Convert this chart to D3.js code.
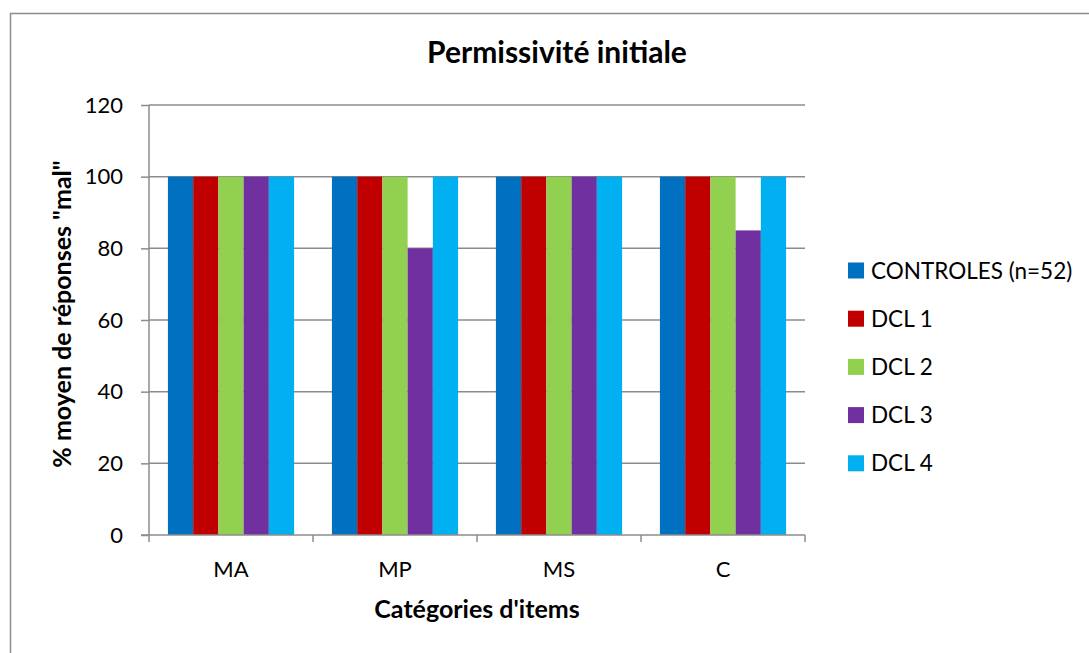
<!DOCTYPE html>
<html><head><meta charset="utf-8">
<script src="https://cdn.jsdelivr.net/npm/d3@7"></script>
<style>body{margin:0;background:#fff;} text{font-family:Lato,"Open Sans",sans-serif;fill:#000;}</style>
</head><body>
<svg id="c" width="1089" height="653"></svg>
<script>
const categories = ["MA", "MP", "MS", "C"];
const seriesNames = ["CONTROLES (n=52)", "DCL 1", "DCL 2", "DCL 3", "DCL 4"];
const controles = [100, 100, 100, 100];
const dcl1 = [100, 100, 100, 100];
const dcl2 = [100, 100, 100, 100];
const dcl3 = [100, 80, 100, 85];
const dcl4 = [100, 100, 100, 100];
const yTicks = [0, 20, 40, 60, 80, 100, 120];
const colors = ["#0070C0", "#C00000", "#92D050", "#7030A0", "#00B0F0"];

const seriesValues = [controles, dcl1, dcl2, dcl3, dcl4];
const svg = d3.select("#c");
svg.append("rect").attr("x",10.5).attr("y",13.5).attr("width",1100).attr("height",700)
  .attr("fill","#fff").attr("stroke","#8c8c8c").attr("stroke-width",1.5);

const L=149, R=805, T=105, B=535;
const x = d3.scaleBand().domain(categories).range([L,R]).paddingInner(0).paddingOuter(0);
const xs = d3.scaleBand().domain(seriesNames).range([0,x.bandwidth()]).paddingOuter(0.75).paddingInner(0);
const y = d3.scaleLinear().domain([0,120]).range([B,T]);

// gridlines
svg.append("g").selectAll("line").data(yTicks.filter(d=>d>0)).join("line")
  .attr("x1",L).attr("x2",R).attr("y1",d=>y(d)).attr("y2",d=>y(d))
  .attr("stroke","#8c8c8c").attr("stroke-width",1.5);

// bars
const g = svg.append("g");
categories.forEach((c,ci)=>{
  seriesNames.forEach((s,si)=>{
    const v = seriesValues[si][ci];
    g.append("rect").attr("x",x(c)+xs(s)).attr("y",y(v))
      .attr("width",xs.bandwidth()).attr("height",y(0)-y(v))
      .attr("fill",colors[si]);
  });
});

// y axis
const ya = svg.append("g").attr("transform",`translate(${L},0)`)
  .call(d3.axisLeft(y).tickValues(yTicks).tickSize(8).tickPadding(18));
ya.select(".domain").attr("stroke","#8c8c8c").attr("stroke-width",1.5).attr("d",`M0,${T}V${B}`);
ya.selectAll(".tick line").attr("stroke","#8c8c8c").attr("stroke-width",1.5);
ya.selectAll(".tick text").style("font-size","22px").attr("fill","#000");

// x axis
const xa = svg.append("g").attr("transform",`translate(0,${B})`)
  .call(d3.axisBottom(x).tickSize(0).tickPadding(26));
xa.select(".domain").attr("stroke","#8c8c8c").attr("stroke-width",1.5).attr("d",`M${L-8},0H${R}`);
xa.selectAll(".tick text").style("font-size","22px").attr("fill","#000");
svg.append("g").selectAll("line").data(d3.range(categories.length+1)).join("line")
  .attr("x1",i=>L+i*x.step()).attr("x2",i=>L+i*x.step()).attr("y1",B).attr("y2",B+7)
  .attr("stroke","#8c8c8c").attr("stroke-width",1.5);

// title
svg.append("text").attr("x",557).attr("y",63).attr("text-anchor","middle")
  .style("font-size","30px").style("font-weight","bold").text("Permissivité initiale");
// axis titles
svg.append("text").attr("x",477).attr("y",618).attr("text-anchor","middle")
  .style("font-size","25px").style("font-weight","bold").text("Catégories d'items");
svg.append("text").attr("transform","translate(71,314) rotate(-90)").attr("text-anchor","middle")
  .style("font-size","25px").style("font-weight","bold").text("% moyen de réponses \"mal\"");

// legend
const leg = svg.append("g");
seriesNames.forEach((s,i)=>{
  const cy = 270.5 + i*48.2;
  leg.append("rect").attr("x",848).attr("y",cy-8).attr("width",16).attr("height",16).attr("fill",colors[i]);
  leg.append("text").attr("x",871).attr("y",cy+8).style("font-size","22.5px").text(s);
});
</script>
</body></html>
